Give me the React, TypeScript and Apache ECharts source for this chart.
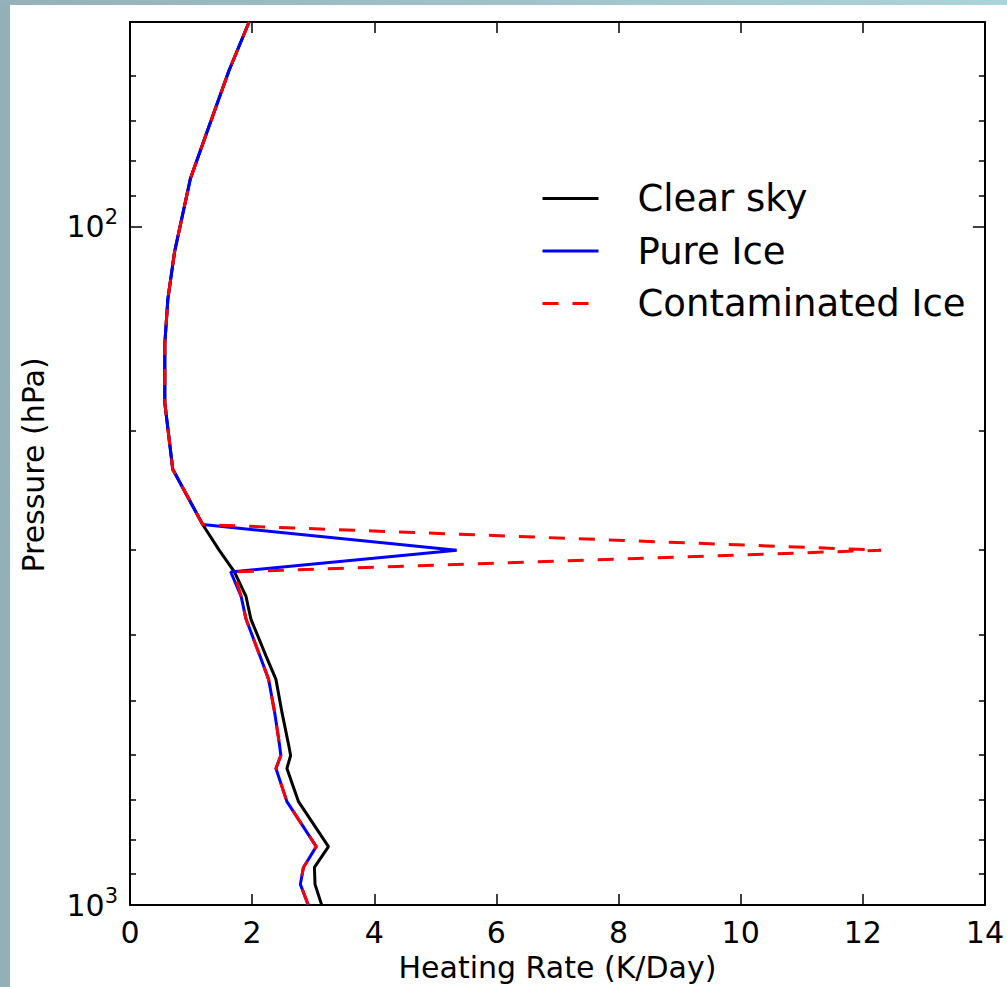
import React, { useEffect, useRef } from 'react';
import * as echarts from 'echarts';

// Pressure levels (hPa) and heating rates (K/Day)
const pressure = [50, 59, 71, 85, 109, 128, 149, 182, 228, 275, 300, 323, 351, 379, 430, 465, 521, 582, 602, 629, 704, 820, 880, 932, 1000];
const clearSky = [1.95, 1.62, 1.30, 0.99, 0.73, 0.62, 0.57, 0.57, 0.70, 1.19, 1.46, 1.71, 1.90, 1.98, 2.23, 2.39, 2.49, 2.60, 2.63, 2.57, 2.76, 3.25, 3.02, 3.03, 3.14];
const pureIce = [1.95, 1.62, 1.30, 0.99, 0.73, 0.62, 0.57, 0.57, 0.70, 1.19, 5.35, 1.65, 1.82, 1.90, 2.13, 2.27, 2.37, 2.45, 2.47, 2.39, 2.57, 3.05, 2.84, 2.79, 2.92];
const contaminatedIce = [1.95, 1.62, 1.30, 0.99, 0.73, 0.62, 0.57, 0.57, 0.70, 1.19, 12.30, 1.70, 1.82, 1.90, 2.13, 2.27, 2.37, 2.45, 2.47, 2.39, 2.57, 3.05, 2.84, 2.79, 2.92];

const seriesNames = ['Clear sky', 'Pure Ice', 'Contaminated Ice'];
const majorPressureTicks = [100, 1000];
const minorPressureTicks = [60, 70, 80, 90, 200, 300, 400, 500, 600, 700, 800, 900];
const xTickLabels = ['0', '2', '4', '6', '8', '10', '12', '14'];

const FONT = 'DejaVu Sans';

export default function App() {
  const ref = useRef<HTMLDivElement>(null);
  useEffect(() => {
    if (!ref.current) return;
    const chart = echarts.init(ref.current, undefined, { renderer: 'svg' });
    const toPairs = (xs: number[]) => xs.map((x, i) => [x, pressure[i]]);
    const supLabel = (v: number) => {
      const e = Math.round(Math.log10(v));
      return majorPressureTicks.includes(v) ? `{a|10}{s|${e}}` : '';
    };
    const yBase = (position: 'left' | 'right') => ({
      type: 'log' as const,
      logBase: 10,
      min: 50,
      max: 1000,
      inverse: true,
      position,
      splitLine: { show: false },
    });
    const option: any = {
      animation: false,
      backgroundColor: '#ffffff',
      graphic: [
        {
          type: 'rect', x: 0, y: 0, z: -10,
          shape: { x: 0, y: 0, width: 10, height: 987 },
          style: { fill: '#93afb7' },
        },
        {
          type: 'rect', x: 0, y: 0, z: -10,
          shape: { x: 0, y: 0, width: 1007, height: 5 },
          style: {
            fill: new echarts.graphic.LinearGradient(0, 0, 1, 0, [
              { offset: 0, color: '#94b1b9' },
              { offset: 1, color: '#abd4da' },
            ]),
          },
        },
        {
          type: 'text', x: 33, y: 465, rotation: Math.PI / 2,
          style: {
            text: 'Pressure (hPa)', font: `30px "${FONT}"`, fill: '#000',
            align: 'center', verticalAlign: 'middle',
          },
        },
      ],
      grid: { left: 130, top: 22, right: 15.5, bottom: 76, containLabel: false },
      legend: {
        orient: 'vertical',
        left: 541,
        top: 180,
        padding: 0,
        itemWidth: 56,
        itemHeight: 20,
        itemGap: 15.5,
        data: seriesNames,
        itemStyle: { opacity: 0 },
        lineStyle: { width: 3 },
        textStyle: { fontSize: 37, fontFamily: FONT, color: '#000', lineHeight: 37, padding: [0, 0, 0, 34] },
      },
      xAxis: [
        {
          type: 'value', min: 0, max: 14, interval: 2, position: 'bottom',
          name: 'Heating Rate (K/Day)', nameLocation: 'middle', nameGap: 45,
          nameTextStyle: { fontSize: 30, fontFamily: FONT, color: '#000' },
          axisLine: { lineStyle: { color: '#000', width: 2 } },
          axisTick: { inside: true, length: 11, lineStyle: { color: '#000', width: 1.5 } },
          axisLabel: {
            fontSize: 30, fontFamily: FONT, color: '#000', margin: 12,
            formatter: (v: number) => xTickLabels[Math.round(v / 2)] ?? '',
          },
          splitLine: { show: false },
        },
        {
          type: 'value', min: 0, max: 14, interval: 2, position: 'top',
          axisLine: { lineStyle: { color: '#000', width: 2 } },
          axisTick: { inside: true, length: 11, lineStyle: { color: '#000', width: 1.5 } },
          axisLabel: { show: false },
          splitLine: { show: false },
        },
      ],
      yAxis: [
        {
          ...yBase('left'),
          axisLine: { show: true, lineStyle: { color: '#000', width: 2 } },
          axisTick: { inside: true, length: 12, customValues: majorPressureTicks, lineStyle: { color: '#000', width: 1.5 } },
          axisLabel: {
            customValues: majorPressureTicks,
            margin: 12,
            formatter: supLabel,
            rich: {
              a: { fontSize: 30, fontFamily: FONT, color: '#000', lineHeight: 40 },
              s: { fontSize: 21, fontFamily: FONT, color: '#000', lineHeight: 21, verticalAlign: 'top' },
            },
          },
        },
        {
          ...yBase('left'),
          axisLine: { show: false },
          axisTick: { inside: true, length: 6, customValues: minorPressureTicks, lineStyle: { color: '#000', width: 1.5 } },
          axisLabel: { show: false },
        },
        {
          ...yBase('right'),
          axisLine: { show: true, lineStyle: { color: '#000', width: 2 } },
          axisTick: { inside: true, length: 12, customValues: majorPressureTicks, lineStyle: { color: '#000', width: 1.5 } },
          axisLabel: { show: false },
        },
        {
          ...yBase('right'),
          axisLine: { show: false },
          axisTick: { inside: true, length: 6, customValues: minorPressureTicks, lineStyle: { color: '#000', width: 1.5 } },
          axisLabel: { show: false },
        },
      ],
      series: [
        {
          name: seriesNames[0], type: 'line', data: toPairs(clearSky), symbol: 'none',
          lineStyle: { color: '#000000', width: 3 }, itemStyle: { color: '#000000' }, z: 2,
        },
        {
          name: seriesNames[1], type: 'line', data: toPairs(pureIce), symbol: 'none',
          lineStyle: { color: '#0000ff', width: 3 }, itemStyle: { color: '#0000ff' }, z: 3,
        },
        {
          name: seriesNames[2], type: 'line', data: toPairs(contaminatedIce), symbol: 'none',
          lineStyle: { color: '#ff0000', width: 3, type: [16, 14] }, itemStyle: { color: '#ff0000' }, z: 4,
        },
      ],
    };
    chart.setOption(option);
    return () => chart.dispose();
  }, []);
  return (
    <div
      ref={ref}
      style={{ position: 'absolute', left: 0, top: 0, width: 1007, height: 987, background: '#fff' }}
    />
  );
}
